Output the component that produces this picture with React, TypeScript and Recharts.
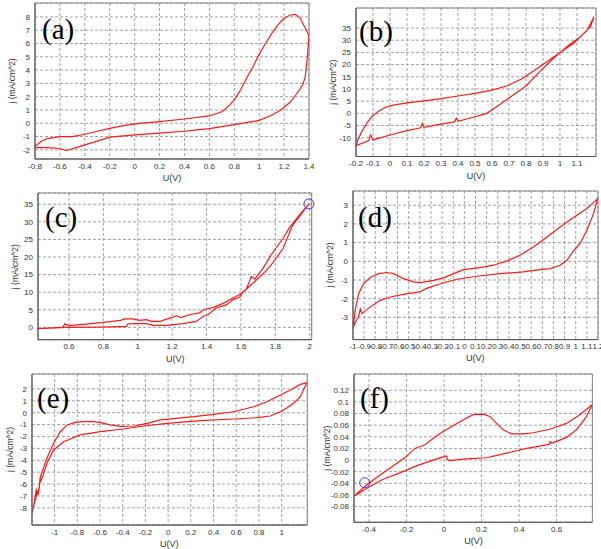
import React from "react";
import { LineChart, Line, XAxis, YAxis, CartesianGrid, ReferenceArea, ReferenceDot } from "recharts";

type Pt = [number, number];

// ---- (a) ----
const aTicksX = [-0.8, -0.6, -0.4, -0.2, 0, 0.2, 0.4, 0.6, 0.8, 1, 1.2, 1.4];
const aTicksY = [-2, -1, 0, 1, 2, 3, 4, 5, 6, 7, 8];
const aUp: Pt[] = [
  [-0.8, -1.76], [-0.75, -1.35], [-0.7, -1.15], [-0.6, -1.0], [-0.5, -1.0], [-0.4, -0.83],
  [-0.3, -0.6], [-0.2, -0.38], [-0.1, -0.2], [0, -0.05], [0.2, 0.12], [0.4, 0.32], [0.6, 0.55],
  [0.7, 0.87], [0.75, 1.25], [0.8, 1.75], [0.85, 2.5], [0.9, 3.4], [0.95, 4.25], [1.0, 5.2],
  [1.05, 6.0], [1.1, 6.75], [1.15, 7.4], [1.2, 7.9], [1.25, 8.15], [1.29, 8.2], [1.33, 7.9], [1.4, 6.6],
];
const aDown: Pt[] = [
  [1.4, 6.6], [1.385, 4.8], [1.37, 3.5], [1.35, 2.9], [1.3, 2.2], [1.25, 1.6], [1.2, 1.2],
  [1.15, 0.87], [1.1, 0.6], [1.0, 0.22], [0.9, 0.05], [0.8, -0.1], [0.7, -0.25], [0.6, -0.4],
  [0.5, -0.5], [0.4, -0.6], [0.2, -0.75], [0, -0.88], [-0.2, -1.05], [-0.3, -1.35], [-0.4, -1.63],
  [-0.5, -1.93], [-0.55, -2.05], [-0.6, -1.9], [-0.7, -1.83], [-0.8, -1.83],
];

// ---- (b) ----
const bTicksX = [-0.2, -0.1, 0, 0.1, 0.2, 0.3, 0.4, 0.5, 0.6, 0.7, 0.8, 0.9, 1, 1.1];
const bTicksY = [-10, -5, 0, 5, 10, 15, 20, 25, 30, 35];
const bUp: Pt[] = [
  [-0.2, -13.7], [-0.19, -11], [-0.166, -7.5], [-0.137, -4.1], [-0.108, -1.4], [-0.07, 0.7],
  [-0.03, 2.4], [0.02, 3.4], [0.1, 4.3], [0.2, 5.1], [0.3, 6.0], [0.4, 7.1], [0.5, 8.2],
  [0.6, 9.5], [0.69, 11.3], [0.78, 14.3], [0.88, 19.1], [0.98, 23.9], [1.08, 28.7], [1.16, 34.1], [1.2, 39.6],
];
const bDown: Pt[] = [
  [1.2, 39.6], [1.18, 35.5], [1.12, 31.4], [1.04, 27.3], [0.96, 22.5], [0.88, 17], [0.8, 11.2],
  [0.725, 7.5], [0.65, 3.8], [0.57, 0], [0.49, -1.6], [0.4, -3.3], [0.39, -2.0], [0.38, -3.5],
  [0.3, -4.4], [0.2, -5.7], [0.19, -4.2], [0.18, -5.9], [0.1, -7.1], [0, -8.9], [-0.1, -10.9],
  [-0.115, -8.9], [-0.125, -11.2], [-0.2, -13.3],
];

// ---- (c) ----
const cTicksX = [0.6, 0.8, 1, 1.2, 1.4, 1.6, 1.8, 2];
const cTicksY = [0, 5, 10, 15, 20, 25, 30, 35];
const cUp: Pt[] = [
  [0.42, -0.35], [0.5, -0.15], [0.565, 0], [0.575, 1.0], [0.6, 0.5], [0.7, 0.95], [0.8, 1.4],
  [0.9, 2.0], [0.925, 2.4], [0.97, 2.4], [1.01, 2.0], [1.05, 2.2], [1.08, 1.7], [1.13, 1.7],
  [1.19, 2.7], [1.225, 3.3], [1.25, 2.8], [1.3, 3.6], [1.36, 4.1], [1.38, 5.0], [1.44, 5.7],
  [1.5, 6.9], [1.55, 8.3], [1.59, 9.3], [1.63, 10.7], [1.66, 14.5], [1.68, 13.7], [1.73, 16.9],
  [1.77, 20.2], [1.81, 23.0], [1.845, 25.4], [1.88, 28.2], [1.94, 32], [1.995, 35.1],
];
const cDown: Pt[] = [
  [1.995, 35.1], [1.9, 29], [1.845, 22.5], [1.806, 19.8], [1.767, 17.2], [1.728, 15.2],
  [1.67, 12.6], [1.61, 10.0], [1.593, 8.6], [1.554, 7.9], [1.515, 6.4], [1.457, 5.5],
  [1.408, 3.6], [1.38, 3.1], [1.34, 1.7], [1.263, 1.05], [1.166, 0.57], [1.09, 0.57],
  [1.05, 1.05], [0.972, 1.05], [0.943, 0.97], [0.934, 0.3], [0.78, 0.1], [0.585, 0], [0.42, -0.35],
];
const cMark: Pt = [1.995, 35.1];

// ---- (d) ----
const dTicksX = [-1, -0.9, -0.8, -0.7, -0.6, -0.5, -0.4, -0.3, -0.2, -0.1, 0, 0.1, 0.2, 0.3, 0.4, 0.5, 0.6, 0.7, 0.8, 0.9, 1, 1.1, 1.2];
const dTicksY = [-3, -2, -1, 0, 1, 2, 3];
const dUp: Pt[] = [
  [-1, -3.6], [-0.98, -2.6], [-0.95, -1.73], [-0.905, -1.19], [-0.845, -0.87], [-0.77, -0.66],
  [-0.695, -0.6], [-0.635, -0.66], [-0.546, -0.93], [-0.456, -1.1], [-0.396, -1.14],
  [-0.276, -1.02], [-0.187, -0.89], [-0.097, -0.66], [-0.007, -0.45], [0.143, -0.34],
  [0.262, -0.21], [0.383, 0.02], [0.5, 0.32], [0.62, 0.76], [0.742, 1.3], [0.86, 1.83],
  [0.98, 2.34], [1.1, 2.82], [1.19, 3.31], [1.2, 3.4],
];
const dDown: Pt[] = [
  [1.2, 3.4], [1.16, 2.55], [1.1, 1.66], [1.04, 0.95], [0.98, 0.55], [0.92, 0.05], [0.86, -0.21],
  [0.77, -0.39], [0.68, -0.45], [0.53, -0.57], [0.32, -0.66], [0.113, -0.8], [-0.066, -0.96],
  [-0.216, -1.2], [-0.34, -1.45], [-0.4, -1.64], [-0.515, -1.73], [-0.665, -1.91], [-0.755, -2.09],
  [-0.845, -2.44], [-0.92, -2.8], [-0.935, -2.55], [-0.95, -2.98], [-0.98, -3.25], [-1, -3.6],
];

// ---- (e) ----
const eTicksX = [-1, -0.8, -0.6, -0.4, -0.2, 0, 0.2, 0.4, 0.6, 0.8, 1];
const eTicksY = [-8, -7, -6, -5, -4, -3, -2, -1, 0, 1, 2];
const eUp: Pt[] = [
  [-1.2, -8.45], [-1.17, -7.34], [-1.15, -6.6], [-1.145, -6.9], [-1.126, -5.4], [-1.067, -3.8],
  [-1.009, -2.57], [-0.95, -1.6], [-0.89, -1.03], [-0.818, -0.81], [-0.744, -0.76], [-0.67, -0.73],
  [-0.597, -0.84], [-0.51, -1.03], [-0.42, -1.15], [-0.3, -1.12], [-0.186, -0.9], [-0.069, -0.61],
  [0.05, -0.5], [0.225, -0.34], [0.4, -0.14], [0.577, 0.08], [0.753, 0.5], [0.87, 0.92],
  [0.99, 1.49], [1.077, 1.91], [1.165, 2.38], [1.22, 2.5],
];
const eDown: Pt[] = [
  [1.22, 2.5], [1.165, 1.34], [1.106, 0.79], [1.048, 0.42], [0.99, 0.08], [0.9, -0.28],
  [0.783, -0.42], [0.577, -0.53], [0.284, -0.67], [-0.01, -0.9], [-0.216, -1.12], [-0.392, -1.37],
  [-0.597, -1.6], [-0.774, -1.87], [-0.92, -2.44], [-1.009, -3.13], [-1.067, -4.25], [-1.11, -5.5],
  [-1.13, -5.9], [-1.125, -5.5], [-1.14, -6.64], [-1.155, -6.9], [-1.16, -6.4], [-1.185, -7.9], [-1.2, -8.45],
];

// ---- (f) ----
const fTicksX = [-0.4, -0.2, 0, 0.2, 0.4, 0.6];
const fTicksY = [-0.08, -0.06, -0.04, -0.02, 0, 0.02, 0.04, 0.06, 0.08, 0.1, 0.12];
const fUp: Pt[] = [
  [-0.48, -0.062], [-0.414, -0.043], [-0.343, -0.026], [-0.272, -0.01], [-0.2, 0.006],
  [-0.156, 0.02], [-0.13, 0.023], [-0.103, 0.026], [-0.059, 0.037], [-0.005, 0.049], [0.048, 0.059],
  [0.101, 0.069], [0.155, 0.078], [0.208, 0.079], [0.244, 0.075], [0.28, 0.063], [0.315, 0.052],
  [0.36, 0.045], [0.421, 0.045], [0.475, 0.047], [0.564, 0.053], [0.653, 0.063], [0.724, 0.078], [0.79, 0.095],
];
const fDown: Pt[] = [
  [0.79, 0.095], [0.76, 0.075], [0.706, 0.052], [0.653, 0.039], [0.608, 0.033], [0.575, 0.029],
  [0.565, 0.032], [0.56, 0.027], [0.51, 0.024], [0.44, 0.02], [0.333, 0.012], [0.226, 0.004],
  [0.12, 0.002], [0.03, -0.001], [0.018, 0.001], [0.014, 0.007], [0.0, 0.006], [-0.059, 0.0],
  [-0.147, -0.01], [-0.236, -0.022], [-0.325, -0.033], [-0.414, -0.049], [-0.48, -0.062],
];
const fMark: Pt = [-0.423, -0.039];

// layout: plot box [left, top, right, bottom] in page px, letter [x, baseline], y-title offset from plot left
const panels = [
  { id: "a", box: [35, 3, 309, 159], xd: [-0.8, 1.4], yd: [-2.69, 9.05], tx: aTicksX, ty: aTicksY, up: aUp, down: aDown, letter: [42, 39], yt: 23 },
  { id: "b", box: [356, 8, 596, 156.5], xd: [-0.2, 1.212], yd: [-17.7, 43.2], tx: bTicksX, ty: bTicksY, up: bUp, down: bDown, letter: [359, 41], yt: 23 },
  { id: "c", box: [38.3, 193.3, 312, 340], xd: [0.42, 2.011], yd: [-3.5, 38.2], tx: cTicksX, ty: cTicksY, up: cUp, down: cDown, letter: [45, 227], mark: cMark, yt: 23 },
  { id: "d", box: [352.7, 190.7, 597.7, 339.3], xd: [-1, 1.2], yd: [-4.19, 3.76], tx: dTicksX, ty: dTicksY, up: dUp, down: dDown, letter: [358, 227], yt: 23 },
  { id: "e", box: [31.7, 374, 307, 525], xd: [-1.199, 1.226], yd: [-9.44, 3.25], tx: eTicksX, ty: eTicksY, up: eUp, down: eDown, letter: [37, 408], yt: 22 },
  { id: "f", box: [354.3, 374, 592.7, 522.3], xd: [-0.48, 0.791], yd: [-0.107, 0.148], tx: fTicksX, ty: fTicksY, up: fUp, down: fDown, letter: [360, 408], mark: fMark, yt: 27 },
];

const tickStyle = { fontSize: 8, fill: "#333", fontFamily: "Liberation Sans, Arial, sans-serif" };
const YW = 35;

function Panel({ p }: any) {
  const [L, T, R, B] = p.box;
  const W = R - L;
  const H = B - T;
  const data = [...p.up, ...p.down].map(([u, j]: Pt) => ({ u, j }));
  return (
    <div style={{ position: "absolute", left: L - YW, top: T - 5 }}>
      <LineChart width={W + YW + 5} height={H + 5 + 30} data={data} margin={{ top: 5, right: 5, left: 0, bottom: 0 }}>
        <CartesianGrid stroke="#a0a0a0" strokeDasharray="3 2" />
        <XAxis
          dataKey="u"
          type="number"
          domain={p.xd}
          ticks={p.tx}
          allowDataOverflow
          interval={0}
          height={30}
          tickSize={3}
          tickMargin={1}
          tickLine={false}
          axisLine={{ stroke: "#555" }}
          tick={tickStyle}
        />
        <YAxis
          type="number"
          domain={p.yd}
          ticks={p.ty}
          allowDataOverflow
          interval={0}
          width={YW}
          tickSize={3}
          tickMargin={2}
          tickLine={false}
          axisLine={{ stroke: "#555" }}
          tick={tickStyle}
        />
        <ReferenceArea x1={p.xd[0]} x2={p.xd[1]} y1={p.yd[0]} y2={p.yd[1]} fill="none" stroke="#888" />
        <Line dataKey="j" type="linear" stroke="#ff1a1a" strokeWidth={1.2} dot={false} isAnimationActive={false} />
        {p.mark && (
          <ReferenceDot x={p.mark[0]} y={p.mark[1]} r={5} fill="none" stroke="#3a3aff" strokeWidth={1} ifOverflow="visible" />
        )}
      </LineChart>
    </div>
  );
}

export default function App() {
  return (
    <div style={{ position: "absolute", left: 0, top: 0, width: 601, height: 549, background: "#fff", overflow: "hidden" }}>
      {panels.map((p) => (
        <Panel key={p.id} p={p} />
      ))}
      <svg width={601} height={549} style={{ position: "absolute", left: 0, top: 0, pointerEvents: "none" }}>
        {panels.map((p) => {
          const [L, T, R, B] = p.box;
          const cx = L - p.yt;
          const cy = (T + B) / 2;
          return (
            <g key={p.id}>
              <text x={p.letter[0]} y={p.letter[1]} fontFamily="Liberation Serif, Times New Roman, serif" fontSize={29} fill="#000">
                ({p.id})
              </text>
              <text x={(L + R) / 2} y={B + 22} textAnchor="middle" fontFamily="Liberation Sans, Arial, sans-serif" fontSize={9} fill="#333">
                U(V)
              </text>
              <text
                x={cx}
                y={cy}
                textAnchor="middle"
                dominantBaseline="central"
                transform={`rotate(-90, ${cx}, ${cy})`}
                fontFamily="Liberation Sans, Arial, sans-serif"
                fontSize={8.5}
                fill="#333"
              >
                j (mA/cm^2)
              </text>
            </g>
          );
        })}
      </svg>
    </div>
  );
}
